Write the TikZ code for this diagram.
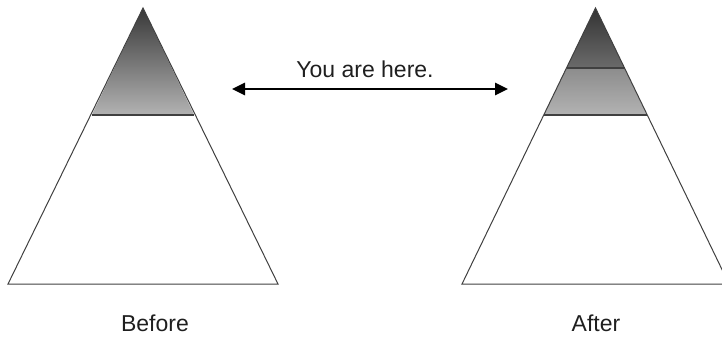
\documentclass[tikz,border=0pt]{standalone}
\usepackage{fontspec}
\setmainfont{Liberation Sans}
\usetikzlibrary{arrows.meta}
\definecolor{edgegray}{HTML}{404040}
\begin{document}
\begin{tikzpicture}[x=1pt,y=-1pt,
  outline/.style={draw=edgegray,line width=1pt,line join=miter},
  divider/.style={draw=edgegray,line width=1.4pt},
  label/.style={font=\fontsize{23}{27}\selectfont,anchor=base,inner sep=0pt,text=black!88},
  arrowline/.style={line width=2.6pt,{Triangle[length=13pt,width=12pt]}-{Triangle[length=13pt,width=12pt]}}]
\useasboundingbox (0,0) rectangle (722,339);
\clip (0,0) rectangle (722,339);
% left triangle
\coordinate (LA) at (143,8);
\coordinate (LL) at (8,284);
\coordinate (LR) at (278,284);
\coordinate (LDl) at (91.8,115);
\coordinate (LDr) at (194.2,115);
\shade[top color=black!78, bottom color=black!30] (LA) -- (LDl) -- (LDr) -- cycle;
\draw[outline] (LA) -- (LL) -- (LR) -- cycle;
\draw[divider] (LDl) -- (LDr);
% right triangle
\coordinate (RA) at (595.5,8);
\coordinate (RL) at (462,284);
\coordinate (RR) at (729,284);
\coordinate (RD1l) at (566.5,68);
\coordinate (RD1r) at (624.5,68);
\coordinate (RD2l) at (544,115);
\coordinate (RD2r) at (647,115);
\shade[top color=black!80, bottom color=black!58] (RA) -- (RD1l) -- (RD1r) -- cycle;
\shade[top color=black!45, bottom color=black!30] (RD1l) -- (RD2l) -- (RD2r) -- (RD1r) -- cycle;
\draw[outline] (RA) -- (RL) -- (RR) -- cycle;
\draw[divider] (RD1l) -- (RD1r);
\draw[divider] (RD2l) -- (RD2r);
% arrow
\coordinate (AL) at (232,89);
\coordinate (AR) at (508,89);
\draw[arrowline] (AL) -- (AR);
\node[label] (here) at (365,78) {You are here.};
\node[label] (before) at (155,331) {Before};
\node[label] (after) at (596,331) {After};
\end{tikzpicture}
\end{document}
